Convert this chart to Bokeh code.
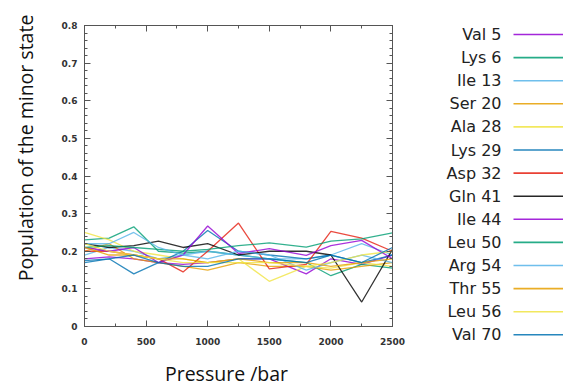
import math
from bokeh.plotting import figure
from bokeh.layouts import row, column
from bokeh.models import Range1d, LinearAxis, SingleIntervalTicker, CustomJSTickFormatter
from bokeh.embed import file_html
from bokeh.resources import INLINE
from bokeh.core.properties import value

# ---- data ----
pressure = [0, 200, 400, 600, 800, 1000, 1250, 1500, 1800, 2000, 2250, 2500]

residues = ["Val 5", "Lys 6", "Ile 13", "Ser 20", "Ala 28", "Lys 29", "Asp 32",
            "Gln 41", "Ile 44", "Leu 50", "Arg 54", "Thr 55", "Leu 56", "Val 70"]

val5 = [0.18, 0.185, 0.18, 0.17, 0.165, 0.17, 0.18, 0.18, 0.14, 0.18, 0.165, 0.19]
lys6 = [0.23, 0.235, 0.265, 0.20, 0.195, 0.20, 0.19, 0.18, 0.17, 0.135, 0.165, 0.155]
ile13 = [0.19, 0.21, 0.20, 0.18, 0.19, 0.20, 0.19, 0.18, 0.18, 0.19, 0.22, 0.19]
ser20 = [0.20, 0.22, 0.18, 0.17, 0.16, 0.15, 0.17, 0.16, 0.16, 0.15, 0.16, 0.17]
ala28 = [0.25, 0.23, 0.20, 0.19, 0.18, 0.17, 0.18, 0.12, 0.16, 0.155, 0.17, 0.16]
lys29 = [0.17, 0.18, 0.14, 0.17, 0.20, 0.255, 0.20, 0.19, 0.18, 0.19, 0.17, 0.19]
asp32 = [0.20, 0.20, 0.19, 0.18, 0.145, 0.20, 0.275, 0.153, 0.165, 0.253, 0.235, 0.20]
gln41 = [0.22, 0.21, 0.215, 0.227, 0.21, 0.22, 0.19, 0.20, 0.20, 0.19, 0.065, 0.205]
ile44 = [0.21, 0.20, 0.21, 0.17, 0.19, 0.267, 0.194, 0.207, 0.189, 0.215, 0.229, 0.18]
leu50 = [0.21, 0.215, 0.21, 0.205, 0.20, 0.205, 0.215, 0.222, 0.211, 0.227, 0.233, 0.249]
arg54 = [0.22, 0.22, 0.25, 0.21, 0.19, 0.18, 0.20, 0.19, 0.15, 0.17, 0.19, 0.17]
thr55 = [0.21, 0.19, 0.19, 0.18, 0.18, 0.17, 0.18, 0.17, 0.17, 0.16, 0.17, 0.18]
leu56 = [0.22, 0.20, 0.19, 0.18, 0.17, 0.17, 0.17, 0.17, 0.16, 0.17, 0.19, 0.20]
val70 = [0.175, 0.18, 0.19, 0.17, 0.16, 0.16, 0.18, 0.18, 0.17, 0.19, 0.17, 0.21]

series = [val5, lys6, ile13, ser20, ala28, lys29, asp32,
          gln41, ile44, leu50, arg54, thr55, leu56, val70]

colors = ["#9400D3", "#009E73", "#56B4E9", "#E69F00", "#F0E442", "#0072B2", "#E51E10",
          "#000000", "#9400D3", "#009E73", "#56B4E9", "#E69F00", "#F0E442", "#0072B2"]

x_title = "Pressure /bar"
y_title = "Population of the minor state"


def blank_panel(w, h, xr, yr):
    f = figure(width=w, height=h, output_backend="svg", toolbar_location=None,
               x_range=Range1d(*xr), y_range=Range1d(*yr),
               min_border=0, min_border_left=0, min_border_right=0,
               min_border_top=0, min_border_bottom=0)
    f.frame_align = False
    f.axis.visible = False
    f.grid.visible = False
    f.outline_line_color = None
    return f


# ---- y title panel ----
yfig = blank_panel(45, 387, (0, 45), (0, 387))
yfig.text(x=[25], y=[387 - 147.5], text=[y_title], angle=math.pi / 2,
          text_font=value("Open Sans"), text_font_size="19.5px",
          text_align="center", text_baseline="middle", text_color="#111111")

# ---- main plot ----
p = figure(width=363, height=355, output_backend="svg", toolbar_location=None,
           x_range=Range1d(0, 2500), y_range=Range1d(0, 0.8),
           min_border_left=39, min_border_right=16, min_border_top=25, min_border_bottom=29)
p.frame_align = False
p.grid.visible = False
p.outline_line_color = "#555555"
p.background_fill_color = "white"
p.border_fill_color = "white"

for ys, c in zip(series, colors):
    p.line(pressure, ys, line_color=c, line_width=1.3, line_alpha=0.8)


def style_axis(ax, labels=True):
    ax.axis_line_color = "#555555"
    ax.major_tick_line_color = "#555555"
    ax.minor_tick_line_color = "#555555"
    ax.major_tick_in = 6
    ax.major_tick_out = 0
    ax.minor_tick_in = 3
    ax.minor_tick_out = 0
    ax.major_label_text_font = "DejaVu Sans"
    ax.major_label_text_font_style = "bold"
    ax.major_label_text_font_size = "9px"
    ax.major_label_text_color = "#333333"
    if not labels:
        ax.formatter = CustomJSTickFormatter(code="return ''")
        ax.major_label_standoff = 0
        ax.major_label_text_font_size = "1px"


p.xaxis.ticker = SingleIntervalTicker(interval=500, num_minor_ticks=2)
p.yaxis.ticker = SingleIntervalTicker(interval=0.1, num_minor_ticks=5)
style_axis(p.xaxis[0])
style_axis(p.yaxis[0])
p.xaxis.major_label_standoff = 11
p.yaxis.major_label_standoff = 7
p.yaxis.formatter = CustomJSTickFormatter(code="return tick === 0 ? '0' : tick.toFixed(1)")

top = LinearAxis(ticker=SingleIntervalTicker(interval=500, num_minor_ticks=2))
right = LinearAxis(ticker=SingleIntervalTicker(interval=0.1, num_minor_ticks=5))
style_axis(top, labels=False)
style_axis(right, labels=False)
p.add_layout(top, "above")
p.add_layout(right, "right")

# ---- x title panel ----
xfig = blank_panel(363, 32, (45, 408), (387, 355))
xfig.text(x=[226], y=[373], text=[x_title],
          text_font=value("Open Sans"), text_font_size="19.5px",
          text_align="center", text_baseline="middle", text_color="#111111")

# ---- legend panel (label left of the line sample) ----
lg = blank_panel(155, 387, (408, 563), (387, 0))
row_y = [34 + 23.1 * i for i in range(len(residues))]
lg.text(x=[501] * len(residues), y=row_y, text=residues,
        text_font=value("DejaVu Sans"), text_font_size="16px",
        text_align="right", text_baseline="middle", text_color="#222222")
lg.segment(x0=[513] * len(residues), y0=row_y, x1=[563] * len(residues), y1=row_y,
           line_color=colors, line_width=1.6, line_alpha=0.85)

layout = row(yfig, column(p, xfig), lg)
open("out.html", "w").write(file_html(layout, INLINE))
